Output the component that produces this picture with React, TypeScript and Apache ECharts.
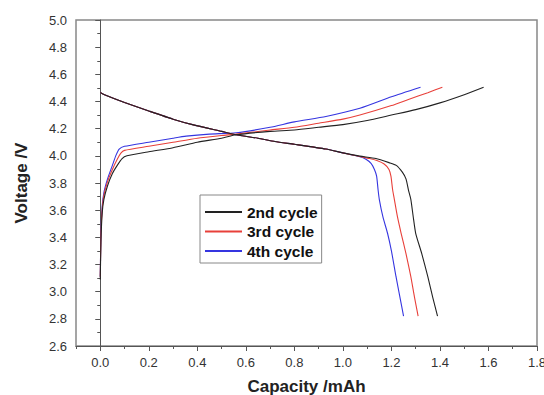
import React, { useEffect, useRef } from "react";
import * as echarts from "echarts";

const seriesNames = ["2nd cycle", "3rd cycle", "4th cycle"];
const seriesColors = ["#222222", "#e8403a", "#3535e0"];
const xMajorTicks = [0, 0.2, 0.4, 0.6, 0.8, 1.0, 1.2, 1.4, 1.6, 1.8];

// Charge curves [capacity mAh, voltage V]
const charge2nd = [
  [0.0, 3.09], [0.003, 3.38], [0.008, 3.58], [0.015, 3.68], [0.03, 3.78], [0.05, 3.87],
  [0.07, 3.93], [0.09, 3.98], [0.11, 4.0], [0.2, 4.03], [0.3, 4.06], [0.4, 4.1],
  [0.5, 4.13], [0.56, 4.155], [0.7, 4.18], [0.8, 4.19], [0.9, 4.21], [1.0, 4.23],
  [1.1, 4.26], [1.2, 4.3], [1.3, 4.34], [1.4, 4.39], [1.5, 4.45], [1.58, 4.505],
];
const charge3rd = [
  [0.0, 3.11], [0.003, 3.43], [0.008, 3.61], [0.015, 3.71], [0.03, 3.81], [0.05, 3.9],
  [0.07, 3.975], [0.085, 4.02], [0.1, 4.04], [0.2, 4.07], [0.3, 4.1], [0.4, 4.13],
  [0.5, 4.15], [0.56, 4.16], [0.7, 4.19], [0.8, 4.21], [0.9, 4.24], [1.0, 4.27],
  [1.07, 4.3], [1.2, 4.37], [1.27, 4.415], [1.35, 4.465], [1.41, 4.505],
];
const charge4th = [
  [0.0, 3.11], [0.003, 3.45], [0.008, 3.63], [0.015, 3.73], [0.03, 3.83], [0.05, 3.93],
  [0.065, 4.005], [0.078, 4.05], [0.1, 4.07], [0.2, 4.1], [0.3, 4.13], [0.354, 4.145],
  [0.45, 4.16], [0.56, 4.17], [0.7, 4.21], [0.8, 4.25], [0.93, 4.29], [1.07, 4.35],
  [1.2, 4.435], [1.32, 4.505],
];

// Discharge curves [capacity mAh, voltage V]
const discharge2nd = [
  [0.0, 4.466], [0.02, 4.447], [0.1, 4.392], [0.2, 4.33], [0.3, 4.27], [0.38, 4.23],
  [0.5, 4.18], [0.56, 4.155], [0.65, 4.13], [0.72, 4.105], [0.8, 4.085], [0.93, 4.05],
  [1.0, 4.022], [1.07, 3.998], [1.136, 3.98], [1.19, 3.95], [1.22, 3.93], [1.245, 3.88],
  [1.26, 3.83], [1.27, 3.75], [1.28, 3.68], [1.29, 3.55], [1.3, 3.43], [1.325, 3.28],
  [1.35, 3.11], [1.37, 2.96], [1.39, 2.82],
];
const discharge3rd = [
  [0.0, 4.466], [0.02, 4.447], [0.1, 4.392], [0.2, 4.33], [0.3, 4.27], [0.38, 4.23],
  [0.5, 4.18], [0.56, 4.155], [0.65, 4.13], [0.72, 4.105], [0.8, 4.085], [0.93, 4.05],
  [1.0, 4.022], [1.07, 3.995], [1.11, 3.98], [1.14, 3.965], [1.17, 3.94], [1.19, 3.9],
  [1.198, 3.85], [1.205, 3.75], [1.212, 3.68], [1.225, 3.55], [1.24, 3.43], [1.26, 3.28],
  [1.28, 3.11], [1.295, 2.96], [1.31, 2.82],
];
const discharge4th = [
  [0.0, 4.466], [0.02, 4.447], [0.1, 4.392], [0.2, 4.33], [0.3, 4.27], [0.38, 4.23],
  [0.5, 4.18], [0.56, 4.155], [0.65, 4.13], [0.72, 4.105], [0.8, 4.085], [0.93, 4.05],
  [1.0, 4.022], [1.07, 3.993], [1.095, 3.975], [1.116, 3.945], [1.13, 3.9], [1.139, 3.85],
  [1.145, 3.75], [1.15, 3.68], [1.165, 3.55], [1.184, 3.43], [1.2, 3.3], [1.219, 3.11],
  [1.235, 2.96], [1.25, 2.82],
];

const chargeData = [charge2nd, charge3rd, charge4th];
const dischargeData = [discharge2nd, discharge3rd, discharge4th];

const FONT = "'Liberation Sans', Arial, sans-serif";

export default function App() {
  const ref = useRef<HTMLDivElement>(null);
  useEffect(() => {
    if (!ref.current) return;
    const chart = echarts.init(ref.current, null, { renderer: "svg" });
    const series: any[] = [];
    seriesNames.forEach((name, i) => {
      [chargeData[i], dischargeData[i]].forEach((d) => {
        series.push({
          name,
          type: "line",
          xAxisIndex: 0,
          data: d,
          showSymbol: false,
          symbol: "none",
          smooth: 0.2,
          lineStyle: { color: seriesColors[i], width: 1.1 },
          itemStyle: { color: seriesColors[i] },
          z: 3 - i,
        });
      });
    });
    chart.setOption({
      animation: false,
      textStyle: { fontFamily: FONT },
      grid: {
        left: 76,
        right: 7,
        top: 20,
        bottom: 49,
        show: true,
        borderColor: "#888",
        borderWidth: 1.5,
        backgroundColor: "transparent",
        outerBoundsMode: "none",
        containLabel: false,
      },
      legend: {
        left: 200,
        top: 195,
        orient: "vertical",
        icon: "rect",
        itemWidth: 37,
        itemHeight: 2,
        itemGap: 3.5,
        padding: [9, 4, 4, 5],
        borderColor: "#888",
        borderWidth: 1,
        data: seriesNames,
        textStyle: { fontFamily: FONT, fontSize: 15.5, fontWeight: "bold", color: "#111" },
      },
      xAxis: [
        {
          type: "value",
          position: "bottom",
          min: -0.1,
          max: 1.8,
          interval: 0.1,
          name: "Capacity /mAh",
          nameLocation: "middle",
          nameGap: 32,
          nameTextStyle: { fontFamily: FONT, fontSize: 17, fontWeight: "bold", color: "#222" },
          axisLine: { show: true, lineStyle: { color: "#555" } },
          axisTick: { show: true, inside: false, length: 3, lineStyle: { color: "#555" } },
          splitLine: { show: false },
          axisLabel: {
            fontFamily: FONT,
            fontSize: 13,
            color: "#333",
            margin: 10,
            showMinLabel: true,
            showMaxLabel: true,
            formatter: (v: number) => {
              const k = Math.round(v * 10);
              return k % 2 === 0 ? (k / 10).toFixed(1) : "";
            },
          },
        },
        {
          type: "value",
          position: "bottom",
          offset: 0,
          min: -0.1,
          max: 1.8,
          interval: 0.1,
          axisLine: { show: false },
          axisTick: {
            show: true,
            inside: false,
            length: 5,
            customValues: xMajorTicks,
            lineStyle: { color: "#555" },
          },
          axisLabel: { show: false },
          splitLine: { show: false },
        },
      ],
      yAxis: {
        type: "value",
        min: 2.6,
        max: 5.0,
        interval: 0.2,
        name: "Voltage /V",
        nameLocation: "middle",
        nameGap: 46,
        nameTextStyle: { fontFamily: FONT, fontSize: 17, fontWeight: "bold", color: "#222" },
        axisLine: { show: true, lineStyle: { color: "#555" } },
        axisTick: { show: true, inside: false, length: 5, lineStyle: { color: "#555" } },
        minorTick: { show: true, splitNumber: 2, length: 3, lineStyle: { color: "#555" } },
        splitLine: { show: false },
        axisLabel: {
          fontFamily: FONT,
          fontSize: 13,
          color: "#333",
          margin: 9,
          formatter: (v: number) => v.toFixed(1),
        },
      },
      series,
    });
    return () => chart.dispose();
  }, []);
  return <div ref={ref} style={{ width: 544, height: 395, position: "absolute", left: 0, top: 0 }} />;
}
